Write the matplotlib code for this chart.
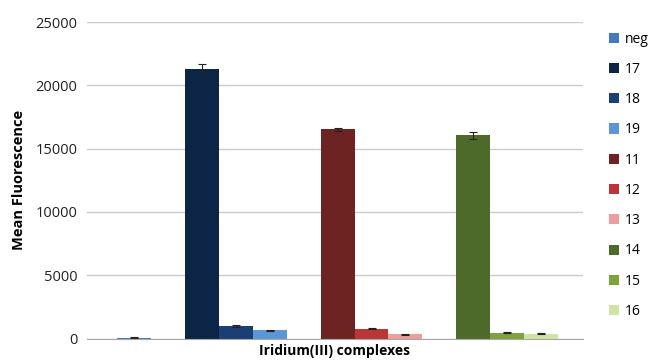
import numpy as np
import matplotlib.pyplot as plt

# series (one bar each), slot index leaves gaps between the groups
labels = ["neg", "17", "18", "19", "11", "12", "13", "14", "15", "16"]
slots = [0, 2, 3, 4, 6, 7, 8, 10, 11, 12]
values = [60, 21300, 980, 650, 16550, 780, 330, 16050, 470, 390]
errors = [30, 350, 60, 60, 120, 50, 40, 250, 50, 40]
colors = ["#4579bd", "#0c2547", "#1c3f73", "#5b97d6", "#6e2323", "#bb3636",
          "#ec9d9c", "#4e6a2a", "#7ea33c", "#cfe3a5"]

plt.rcParams['font.family'] = ['Open Sans', 'DejaVu Sans']

fig = plt.figure(figsize=(6.54, 3.61), dpi=100)
ax = fig.add_axes([0.133, 0.062, 0.758, 0.877])

for s, v, e, c, lab in zip(slots, values, errors, colors, labels):
    ax.bar(s, v, width=1.0, color=c, label=lab, zorder=2,
           yerr=e, error_kw=dict(ecolor="#222222", elinewidth=0.8, capsize=3, capthick=0.8))

ax.set_xlim(-1.38, 13.22)
ax.set_ylim(0, 25000)
ax.set_yticks(np.arange(0, 25001, 5000))
ax.set_xticks([])
ax.yaxis.grid(True, color="#d2c9c4", linewidth=1.0, zorder=0)
ax.set_axisbelow(True)
for sp in ["top", "right", "left"]:
    ax.spines[sp].set_visible(False)
ax.spines["bottom"].set_color("#a8a8a8")
ax.tick_params(axis="y", length=0, labelsize=10.5, pad=7, colors="#222222")

ax.set_ylabel("Mean Fluorescence", fontsize=10.5, fontweight="bold", labelpad=7)
ax.set_xlabel("Iridium(III) complexes", fontsize=10, fontweight="bold", labelpad=4)

fig.legend(loc="upper left", bbox_to_anchor=(0.922, 0.928), frameon=False,
           fontsize=10, handlelength=0.75, handleheight=0.75, handletextpad=0.4,
           labelspacing=1.10, borderaxespad=0)

fig.savefig("out.png", dpi=100)
